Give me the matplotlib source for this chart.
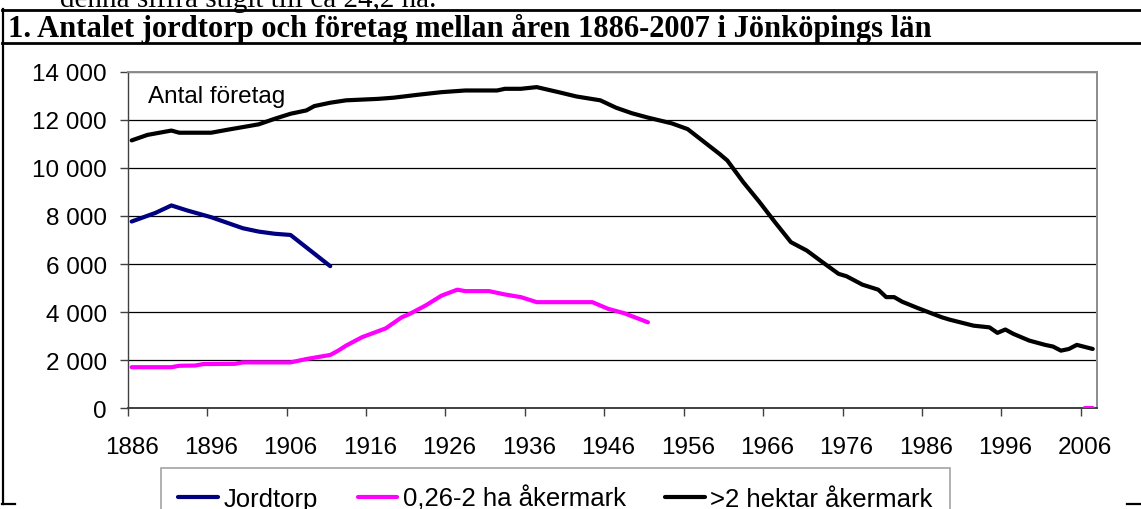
import numpy as np
import matplotlib
matplotlib.use("Agg")
import matplotlib.pyplot as plt
from matplotlib.lines import Line2D
from matplotlib.ticker import FixedLocator, FuncFormatter

# series (year, number of farms)
years_torp = [1886, 1889, 1891, 1893, 1896, 1898, 1900, 1902, 1904, 1906, 1911]
vals_torp = [7770, 8130, 8440, 8230, 7950, 7720, 7490, 7350, 7260, 7210, 5910]

years_small = [1886, 1891, 1892, 1894, 1895, 1899, 1900, 1906, 1908, 1911, 1912, 1913,
               1915, 1918, 1920, 1921, 1923, 1925, 1927, 1928, 1931, 1933, 1935, 1937,
               1944, 1946, 1948, 1951, 1952, 2006, 2007]
vals_small = [1700, 1700, 1760, 1770, 1830, 1840, 1900, 1900, 2040, 2210, 2390, 2600,
              2950, 3320, 3780, 3920, 4270, 4680, 4930, 4870, 4870, 4730, 4620, 4410,
              4410, 4130, 3950, 3570, np.nan, 0, 0]

years_big = [1886, 1888, 1891, 1892, 1896, 1898, 1902, 1904, 1906, 1908, 1909, 1911,
             1913, 1917, 1919, 1922, 1925, 1928, 1932, 1933, 1935, 1937, 1940, 1942,
             1945, 1947, 1949, 1951, 1954, 1956, 1960, 1961, 1963, 1965, 1967, 1969,
             1971, 1973, 1975, 1976, 1978, 1980, 1981, 1982, 1983, 1985, 1988, 1989,
             1992, 1994, 1995, 1996, 1997, 1999, 2001, 2002, 2003, 2004, 2005, 2007]
vals_big = [11150, 11380, 11560, 11470, 11470, 11590, 11820, 12050, 12260, 12400, 12580, 12720,
            12820, 12880, 12930, 13050, 13160, 13230, 13230, 13300, 13300, 13370, 13140, 12980,
            12820, 12510, 12280, 12100, 11860, 11620, 10590, 10310, 9410, 8600, 7740, 6910,
            6560, 6070, 5590, 5490, 5140, 4930, 4620, 4620, 4430, 4160, 3780, 3680,
            3430, 3360, 3130, 3270, 3090, 2810, 2630, 2560, 2390, 2460, 2630, 2460]

series_names = ["Jordtorp", "0,26-2 ha åkermark", ">2 hektar åkermark"]
series_colors = ["#000080", "#FF00FF", "#000000"]
year_labels = list(range(1886, 2007, 10))
y_ticks = list(range(0, 14001, 2000))

title = "1. Antalet jordtorp och företag mellan åren 1886-2007 i Jönköpings län"
top_text = "denna siffra stigit till ca 24,2 ha."

sans = "Liberation Sans"
serif = "Liberation Serif"

W, H = 1141, 510
fig = plt.figure(figsize=(W / 100, H / 100), dpi=100)
fig.patch.set_facecolor("white")

ax = fig.add_axes([127.7 / W, 1 - 409 / H, 969 / W, 336 / H])

for yrs, vals, name, col in zip([years_torp, years_small, years_big],
                                [vals_torp, vals_small, vals_big],
                                series_names, series_colors):
    ax.plot(yrs, vals, color=col, lw=3.0, label=name,
            solid_joinstyle="round", solid_capstyle="round", zorder=3)

ax.set_xlim(1885.5, 2007.5)
ax.set_ylim(0, 14000)

# y axis
ax.set_yticks(y_ticks)
ax.yaxis.set_major_formatter(FuncFormatter(lambda v, p: f"{int(v):,}".replace(",", " ")))
ax.tick_params(axis="y", direction="out", length=6, width=1, color="#404040",
               pad=9, labelsize=17.5)
ax.grid(axis="y", color="black", lw=0.9, zorder=1)

# x axis: labels at category centres, tick marks between categories
ax.set_xticks(year_labels)
ax.set_xticklabels([str(y) for y in year_labels])
ax.xaxis.set_minor_locator(FixedLocator([y - 0.5 for y in year_labels]))
ax.tick_params(axis="x", which="major", length=0, pad=20, labelsize=17.5)
ax.tick_params(axis="x", which="minor", direction="out", length=6, width=1, color="#404040")

for lab in ax.get_xticklabels() + ax.get_yticklabels():
    lab.set_fontfamily(sans)

for side in ["top", "right"]:
    ax.spines[side].set_color("#8c8c8c")
    ax.spines[side].set_linewidth(1.4)
ax.spines["left"].set_color("#404040")
ax.spines["bottom"].set_color("#404040")
ax.spines["left"].set_linewidth(1.0)
ax.spines["bottom"].set_linewidth(1.4)

ax.text(0.021, 0.911, "Antal företag", transform=ax.transAxes, fontsize=17.5,
        family=sans, va="baseline", ha="left")

leg = ax.legend(loc="upper left", bbox_to_anchor=(161 / W, 1 - 469 / H),
                bbox_transform=fig.transFigure, ncol=3, frameon=True, fancybox=False,
                borderaxespad=0, borderpad=0.68, handlelength=1.55, handletextpad=0.2,
                columnspacing=1.55, prop={"family": sans, "size": 18.5})
leg.get_frame().set_edgecolor("#8c8c8c")
leg.get_frame().set_linewidth(1.2)
for h in leg.get_lines():
    h.set_linewidth(3.0)

# page text and frame around the figure caption
fig.text(60 / W, 1 - 7 / H, top_text, family=serif, fontsize=21, va="baseline", ha="left")
fig.text(8 / W, 1 - 36.5 / H, title, family=serif, fontsize=22, fontweight="bold",
         va="baseline", ha="left")

def fig_line(x0, y0, x1, y1, lw=2.0):
    fig.add_artist(Line2D([x0 / W, x1 / W], [1 - y0 / H, 1 - y1 / H],
                          color="black", lw=lw, transform=fig.transFigure))

fig_line(2, 11, W, 11)
fig_line(2, 44, W, 44)
fig_line(3, 10, 3, 505, lw=1.6)
fig_line(2, 505, 15, 505, lw=1.6)
fig_line(1127, 505, W, 505, lw=1.6)

fig.savefig("out.png", dpi=100)
